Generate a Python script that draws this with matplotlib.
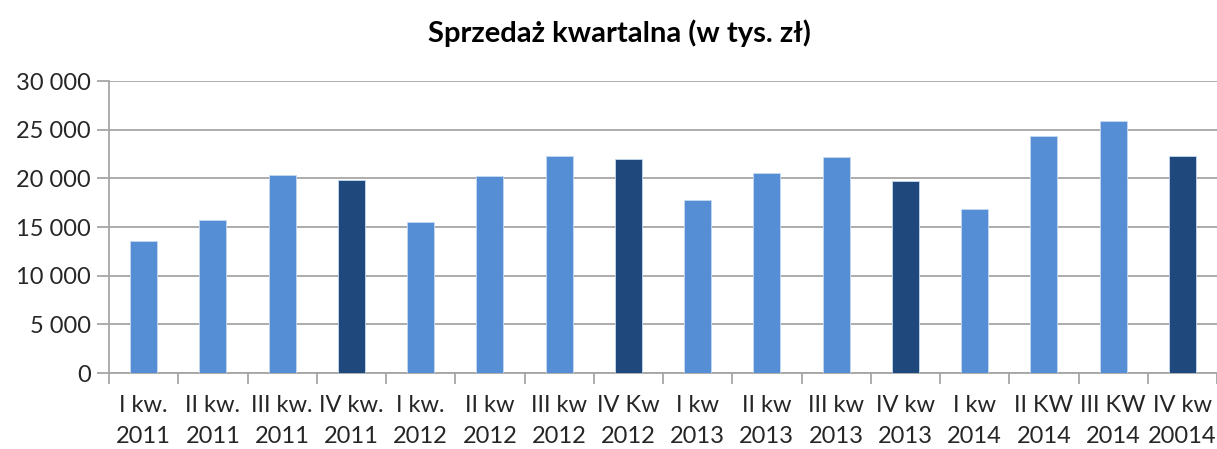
import matplotlib.pyplot as plt
import numpy as np

# Quarterly sales data (thousand PLN)
labels = ["I kw.\n2011", "II kw.\n2011", "III kw.\n2011", "IV kw.\n2011",
          "I kw.\n2012", "II kw\n2012", "III kw\n2012", "IV Kw\n2012",
          "I kw\n2013", "II kw\n2013", "III kw\n2013", "IV kw\n2013",
          "I kw\n2014", "II KW\n2014", "III KW\n2014", "IV kw\n20014"]
sales = [13600, 15700, 20300, 19800,
         15500, 20200, 22300, 22000,
         17800, 20500, 22200, 19700,
         16800, 24400, 25900, 22300]

light = "#558ED5"
dark = "#1F497D"
grid_col = "#A6A6A6"

plt.rcParams['font.family'] = ['Lato', 'DejaVu Sans']

fig = plt.figure(figsize=(12.17, 4.49), dpi=100)
ax = fig.add_axes([109 / 1217, 1 - 373 / 449, 1 - 109 / 1217, (373 - 81) / 449])

x = np.arange(len(sales))
colors = [dark if lab.upper().startswith("IV") else light for lab in labels]
ax.bar(x, sales, width=0.39, color=colors, edgecolor="#C6D9F1", linewidth=0.6, zorder=3)

ax.set_xlim(-0.5, len(sales) - 0.5)
ax.set_ylim(0, 30000)
ax.set_yticks(np.arange(0, 30001, 5000))
ax.set_yticklabels([f"{v:,}".replace(",", " ") for v in range(0, 30001, 5000)], fontsize=17, color="#262626")
ax.grid(axis="y", color=grid_col, linewidth=1.3, zorder=0)
ax.tick_params(axis="y", length=9, width=1.3, color=grid_col, pad=4)

ax.set_xticks(x)
ax.set_xticklabels(labels, fontsize=17, color="#262626", linespacing=1.55)
ax.set_xticks(np.arange(-0.5, len(sales), 1), minor=True)
ax.tick_params(axis="x", which="major", length=0, pad=16)
ax.tick_params(axis="x", which="minor", length=8, width=1.3, color=grid_col)

for s in ["top", "right"]:
    ax.spines[s].set_visible(False)
for s in ["left", "bottom"]:
    ax.spines[s].set_color(grid_col)
    ax.spines[s].set_linewidth(1.3)

fig.text(0.509, 1 - 33 / 449, "Sprzedaż kwartalna (w tys. zł)", ha="center", va="center",
         fontsize=21, fontweight="bold", color="#000000")

fig.savefig("out.png", dpi=100)
